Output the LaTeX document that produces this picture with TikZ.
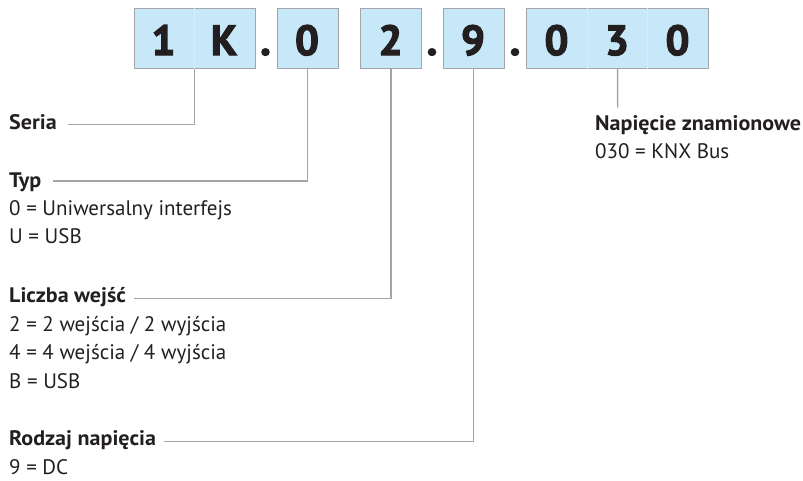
\documentclass[tikz,border=0pt]{standalone}
\usepackage{fontspec}
\setmainfont{PT Sans}[BoldFeatures={FakeStretch=1.05}]
\newfontfamily\codefont{PT Sans Bold}[FakeBold=3]
\definecolor{ink}{HTML}{231F20}
\definecolor{cellfill}{HTML}{C7E8F8}
\definecolor{cellline}{HTML}{A3A5A8}
\definecolor{celldiv}{HTML}{D6EDF9}
\definecolor{leader}{HTML}{A3A5A8}
\tikzset{
  codebox/.style={draw=cellline, fill=cellfill, line width=1.2pt, inner sep=0pt,
                  minimum height=60pt, anchor=north west},
  digit/.style={font=\fontsize{42}{42}\codefont, text=ink, inner sep=0pt, anchor=base},
  sep/.style={font=\fontsize{44}{44}\codefont, text=ink, inner sep=0pt, anchor=base},
  head/.style={font=\fontsize{21}{24}\selectfont\bfseries, text=ink, inner sep=0pt, anchor=base west},
  desc/.style={font=\fontsize{21}{24}\selectfont, text=ink, inner sep=0pt, anchor=base west},
  conn/.style={draw=leader, line width=1.4pt},
  celldivider/.style={draw=celldiv, line width=1pt}
}
\begin{document}
\begin{tikzpicture}[x=1pt,y=-1pt]
\useasboundingbox (0,0) rectangle (803,480);

% code boxes
\node[codebox, minimum width=121pt] (bK)  at (133.5,7.5) {};
\node[codebox, minimum width=61pt]  (bT)  at (276.5,7.5) {};
\node[codebox, minimum width=61pt]  (bL)  at (360,7.5) {};
\node[codebox, minimum width=61pt]  (bR)  at (442.5,7.5) {};
\node[codebox, minimum width=182pt] (bN)  at (526,7.5) {};

% faint cell dividers inside the wider boxes
\draw[celldivider] (bK.north) -- (bK.south);
\draw[celldivider] ([xshift=-30.3pt]bN.north) -- ([xshift=-30.3pt]bN.south);
\draw[celldivider] ([xshift=30.3pt]bN.north) -- ([xshift=30.3pt]bN.south);

% characters of the code
\node[digit] (d1) at (163.5,55) {1};
\node[digit] (d2) at (224,55) {K};
\node[sep]   (s1) at (265.5,55) {.};
\node[digit] (d3) at (307,55) {0};
\node[digit] (d4) at (390.5,55) {2};
\node[sep]   (s2) at (432,55) {.};
\node[digit] (d5) at (473,55) {9};
\node[sep]   (s3) at (515,55) {.};
\node[digit] (d6) at (556.5,55) {0};
\node[digit] (d7) at (617,55) {3};
\node[digit] (d8) at (677.5,55) {0};

% headings and descriptions
\node[head] (seria) at (9,129.3) {Seria};

\node[head] (typ) at (9,187.3) {Typ};
\node[desc] (typ1) at (9,215.3) {0 = Uniwersalny interfejs};
\node[desc] (typ2) at (9,243.3) {U = USB};

\node[head] (liczba) at (9,302.7) {Liczba wejść};
\node[desc] (lic1) at (9,331) {2 = 2 wejścia / 2 wyjścia};
\node[desc] (lic2) at (9,359.5) {4 = 4 wejścia / 4 wyjścia};
\node[desc] (lic3) at (9,388) {B = USB};

\node[head] (rodzaj) at (9,445.7) {Rodzaj napięcia};
\node[desc] (rod1) at (9,474) {9 = DC};

\node[head] (napiecie) at (595,130) {Napięcie znamionowe};
\node[desc] (nap1) at (595,158.3) {030 = KNX Bus};

% leader lines
\draw[conn] (bK.south) |- ([xshift=11pt,yshift=5pt]seria.base east);
\draw[conn] (bT.south) |- ([xshift=11pt,yshift=6.5pt]typ.base east);
\draw[conn] (bL.south) |- ([xshift=8pt,yshift=4.5pt]liczba.base east);
\draw[conn] (bR.south) |- ([xshift=8pt,yshift=4pt]rodzaj.base east);
\coordinate (napTop) at (617.7,107.7);
\draw[conn] (bN.south) -- (napTop);
\end{tikzpicture}
\end{document}
